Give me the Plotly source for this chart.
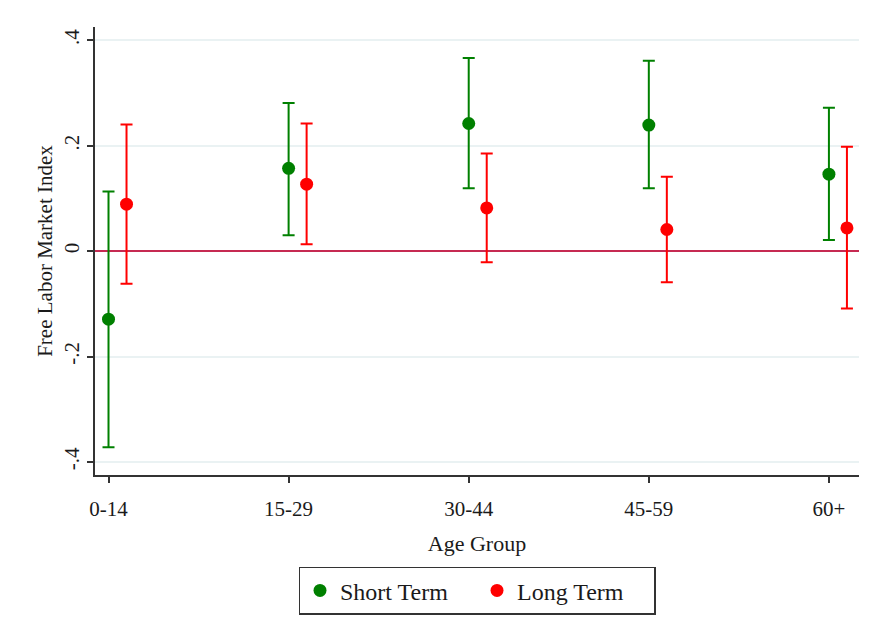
import plotly.graph_objects as go
import numpy as np

categories = ["0-14", "15-29", "30-44", "45-59", "60+"]

short_est = [-0.129, 0.157, 0.242, 0.239, 0.146]
short_lo = [-0.372, 0.030, 0.119, 0.119, 0.021]
short_hi = [0.113, 0.281, 0.366, 0.361, 0.272]

long_est = [0.089, 0.127, 0.082, 0.041, 0.044]
long_lo = [-0.062, 0.013, -0.021, -0.059, -0.109]
long_hi = [0.240, 0.242, 0.185, 0.141, 0.198]

ytick_vals = [-0.4, -0.2, 0, 0.2, 0.4]
ytick_text = ["-.4", "-.2", "0", ".2", ".4"]

FONT = "Liberation Serif"
x_base = np.arange(len(categories))
offset = 0.1

fig = go.Figure()

def add_series(xs, est, lo, hi, color, name):
    est = np.array(est); lo = np.array(lo); hi = np.array(hi)
    fig.add_trace(go.Scatter(
        x=xs, y=est, mode="markers", name=name,
        marker=dict(color=color, size=13, line=dict(width=0)),
        error_y=dict(type="data", symmetric=False, array=hi - est,
                     arrayminus=est - lo, color=color, thickness=2, width=6),
    ))

add_series(x_base, short_est, short_lo, short_hi, "#008000", "Short Term")
add_series(x_base + offset, long_est, long_lo, long_hi, "#ff0000", "Long Term")

fig.update_layout(
    width=870, height=639,
    margin=dict(l=95, r=11, t=27, b=164),
    paper_bgcolor="white", plot_bgcolor="white",
    font=dict(family=FONT, size=20, color="#1a1a1a"),
    showlegend=True,
    legend=dict(orientation="h", x=0.5, xanchor="center", y=-0.205, yanchor="top",
                bordercolor="#333333", borderwidth=1.5, font=dict(size=24),
                itemwidth=30, entrywidth=132, entrywidthmode="pixels"),
)

fig.update_xaxes(
    range=[-0.075, 4.167], tickmode="array", tickvals=list(x_base), ticktext=categories,
    showgrid=False, zeroline=False, showline=True, linecolor="#333333", linewidth=1.5,
    ticks="outside", ticklen=6, tickcolor="#333333", tickwidth=1.5,
    tickfont=dict(size=21), ticklabelstandoff=8,
    title=dict(text="Age Group", font=dict(size=22), standoff=16),
)

fig.update_yaxes(
    range=[-0.4245, 0.425], tickmode="array", tickvals=ytick_vals, ticktext=ytick_text,
    tickangle=-90, showgrid=True, gridcolor="#eaf2f3", gridwidth=1.5,
    zeroline=True, zerolinecolor="#c62a52", zerolinewidth=1.5,
    showline=True, linecolor="#333333", linewidth=1.5,
    ticks="outside", ticklen=6, tickcolor="#333333", tickwidth=1.5,
    tickfont=dict(size=21),
    title=dict(text="Free Labor Market Index", font=dict(size=21), standoff=1),
)

fig.write_html("out.html")
